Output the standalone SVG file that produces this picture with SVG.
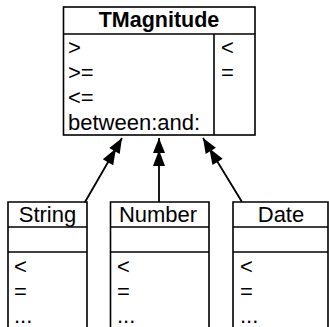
<svg xmlns="http://www.w3.org/2000/svg" width="329" height="327" viewBox="0 0 329 327">
<defs>
<style>
.box{fill:#fff;stroke:#000;stroke-width:1.6}
.ln{stroke:#000;stroke-width:1.6;fill:none}
.t{font-family:"Liberation Sans",Arial,sans-serif;font-size:22px;fill:#000}
.b{font-weight:bold;font-size:21.5px}
.c{stroke:#000;stroke-width:1.8;fill:none}
</style>
<marker id="dbl" markerUnits="userSpaceOnUse" markerWidth="32" markerHeight="14" viewBox="-30 -7 32 14" refX="0" refY="0" orient="auto">
<path d="M0,0 L-15,-6 L-15,6 Z M-12,0 L-28,-6 L-28,6 Z" fill="#000"/>
</marker>
</defs>
<g id="connectors">
<line class="c" x1="85" y1="202" x2="122" y2="138" marker-end="url(#dbl)"/>
<line class="c" x1="159" y1="202" x2="159" y2="138" marker-end="url(#dbl)"/>
<line class="c" x1="242" y1="202" x2="203" y2="138" marker-end="url(#dbl)"/>
</g>
<g id="TMagnitude">
<rect class="box" x="63.5" y="7" width="191.5" height="128"/>
<line class="ln" x1="63.5" y1="34" x2="255" y2="34"/>
<line class="ln" x1="214" y1="34" x2="214" y2="135"/>
<text class="t b" x="159" y="27" text-anchor="middle">TMagnitude</text>
<text class="t" x="68" y="55">&gt;</text>
<text class="t" x="68" y="80">&gt;=</text>
<text class="t" x="68" y="105">&lt;=</text>
<text class="t" x="68" y="130">between:and:</text>
<text class="t" x="221" y="55">&lt;</text>
<text class="t" x="221" y="80">=</text>
</g>
<g id="String">
<path class="ln" d="M8,328 V202 H87 V328"/>
<line class="ln" x1="8" y1="227" x2="87" y2="227"/>
<line class="ln" x1="8" y1="252" x2="87" y2="252"/>
<text class="t" x="47.5" y="222" text-anchor="middle">String</text>
<text class="t" x="14" y="274">&lt;</text>
<text class="t" x="14" y="299">=</text>
<text class="t" x="14" y="323">...</text>
</g>
<g id="Number">
<path class="ln" d="M110.5,328 V202 H209 V328"/>
<line class="ln" x1="110.5" y1="227" x2="209" y2="227"/>
<line class="ln" x1="110.5" y1="252" x2="209" y2="252"/>
<text class="t" x="158" y="222" text-anchor="middle">Number</text>
<text class="t" x="117" y="274">&lt;</text>
<text class="t" x="117" y="299">=</text>
<text class="t" x="117" y="323">...</text>
</g>
<g id="Date">
<path class="ln" d="M233,328 V202 H328 V328"/>
<line class="ln" x1="233" y1="227" x2="328" y2="227"/>
<line class="ln" x1="233" y1="252" x2="328" y2="252"/>
<text class="t" x="281" y="222" text-anchor="middle">Date</text>
<text class="t" x="240" y="274">&lt;</text>
<text class="t" x="240" y="299">=</text>
<text class="t" x="240" y="323">...</text>
</g>
</svg>
